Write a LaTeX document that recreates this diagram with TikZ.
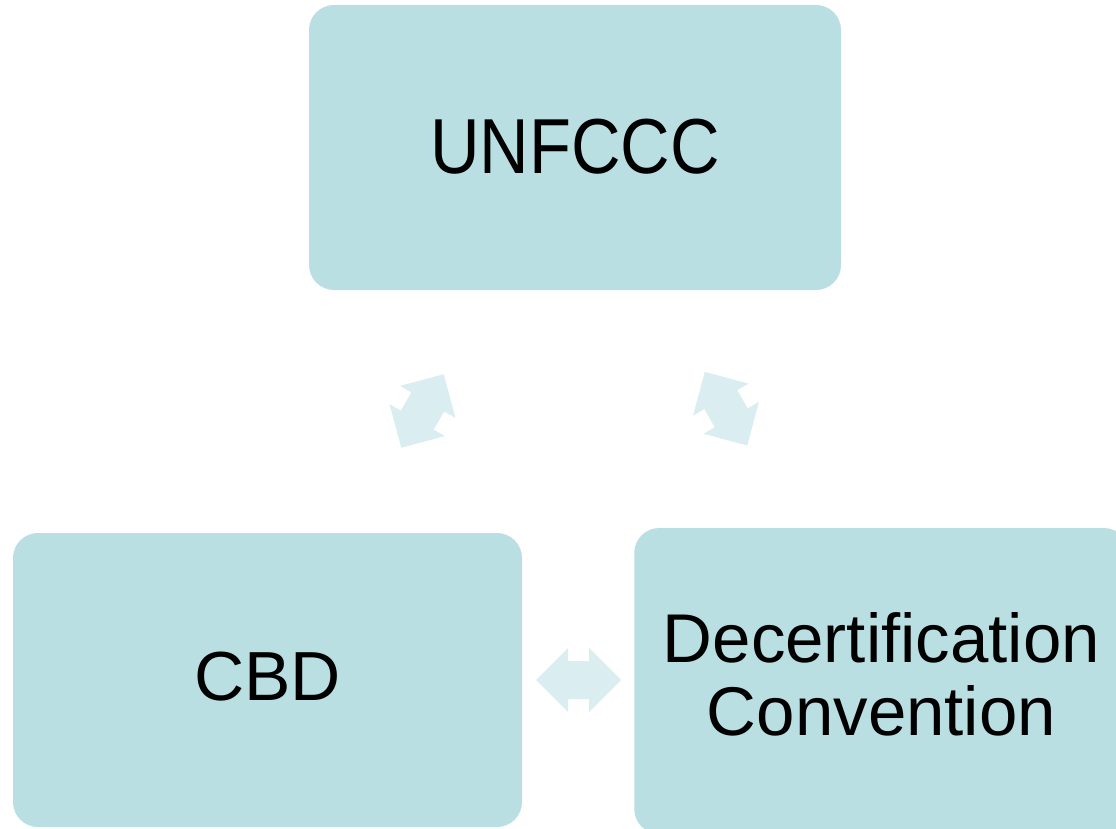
\documentclass[tikz,border=0pt]{standalone}
\usepackage{fontspec}
\setmainfont{Liberation Sans}
\definecolor{boxfill}{RGB}{185,223,227}
\definecolor{arrfill}{RGB}{218,237,240}
\begin{document}
\begin{tikzpicture}[x=1pt,y=-1pt,
  box/.style={fill=boxfill, rounded corners=25pt, inner sep=0pt, align=center, text=black},
  dblarrow/.pic={\fill[arrfill] (42.5,0) -- (10.5,32) -- (10.5,19) -- (-10.5,19) -- (-10.5,32)
      -- (-42.5,0) -- (-10.5,-32) -- (-10.5,-19) -- (10.5,-19) -- (10.5,-32) -- cycle;}]
\useasboundingbox (0,0) rectangle (1116,829);
\clip (0,0) rectangle (1116,829);
\node[box, minimum width=532pt, minimum height=285pt, text depth=3pt,
      font=\fontsize{78}{80}\selectfont] (un) at (575,147.5) {\scalebox{0.88}[1]{UNFCCC}};
\node[box, minimum width=509pt, minimum height=294pt, text depth=6.6pt,
      font=\fontsize{69.5}{72}\selectfont] (cbd) at (267.5,680) {CBD};
\node[box, minimum width=494.5pt, minimum height=306pt, text depth=14pt,
      font=\fontsize{69}{73.4}\selectfont] (dc) at (881.5,681) {Decertification\\Convention};
\pic (a1) [rotate=60] at (422.5,411) {dblarrow};
\pic (a2) [rotate=-60] at (726,408.7) {dblarrow};
\pic (a3) at (578.5,680) {dblarrow};
\end{tikzpicture}
\end{document}
